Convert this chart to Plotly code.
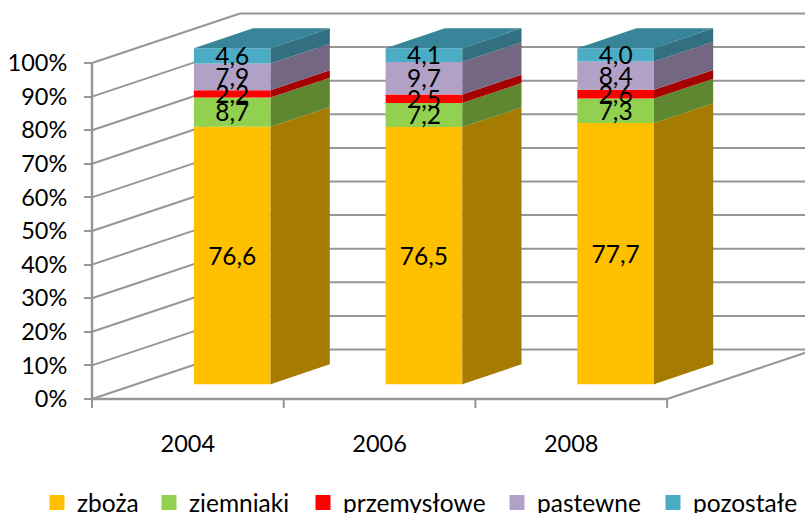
import plotly.graph_objects as go

years = ["2004", "2006", "2008"]
series_names = ["zboża", "ziemniaki", "przemysłowe", "pastewne", "pozostałe"]
zboza = [76.6, 76.5, 77.7]
ziemniaki = [8.7, 7.2, 7.3]
przemyslowe = [2.2, 2.5, 2.6]
pastewne = [7.9, 9.7, 8.4]
pozostale = [4.6, 4.1, 4.0]
front_colors = ["#FFC000", "#92D050", "#FF0000", "#B2A1C7", "#4BACC6"]
side_colors = ["#A67C00", "#5F8731", "#A60000", "#746782", "#326F81"]
top_color = "#38859A"
percent_ticks = [0, 10, 20, 30, 40, 50, 60, 70, 80, 90, 100]
legend_x_px = [37, 149, 303, 497, 653]
GRID = "#969696"
FONT = "Lato, Carlito, Calibri, sans-serif"
# canvas slightly larger than the 805x513 window, so the legend row can hug the bottom edge
W, H = 830, 533

# pixel calibration of the axes
PX_CAT, PX_PCT = 191.7, 3.36
AX_X, AX_Y = 92, 399
x_range = [0.5 - AX_X / PX_CAT, 0.5 + (W - AX_X) / PX_CAT]
y_range = [-(H - AX_Y) / PX_PCT, AX_Y / PX_PCT]

# oblique depth: one full floor depth in axis units
DX, DY = 148 / PX_CAT, 49.5 / PX_PCT
Z0, Z1 = 0.3, 0.7
BAR_W = 0.4
LABEL_DROP = 3 / PX_PCT
cats = [1, 2, 3]
all_series = [zboza, ziemniaki, przemyslowe, pastewne, pozostale]

fig = go.Figure()
shapes = []


def seg(x0, y0, x1, y1, width=2, color=GRID):
    shapes.append(dict(type="line", xref="x", yref="y", x0=x0, y0=y0, x1=x1, y1=y1,
                       layer="below", line=dict(color=color, width=width)))


# walls: gridlines derived from the percent ticks
for p in percent_ticks:
    seg(0.5, p, 0.5 + DX, p + DY)
    seg(0.5 + DX, p + DY, 3.5 + DX, p + DY)
# floor edges and axis lines
seg(0.5, 0, 3.5, 0, 2.5)
seg(3.5, 0, 3.5 + DX, DY)
seg(0.5, 0, 0.5, 100, 2.5)
for edge in [0.5, 1.5, 2.5, 3.5]:
    seg(edge, 0, edge, -9 / PX_PCT, 2)

# front faces
cum = [0.0, 0.0, 0.0]
for name, vals, col in zip(series_names, all_series, front_colors):
    fig.add_trace(go.Bar(
        name=name,
        x=[c + Z0 * DX for c in cats],
        y=vals,
        base=[b + Z0 * DY for b in cum],
        width=BAR_W,
        marker=dict(color=col, line=dict(width=0)),
        showlegend=False,
        hoverinfo="name+y",
    ))
    cum = [b + v for b, v in zip(cum, vals)]

# legend entries, one legend per series so each sits at its own position
layout_legends = {}
for k, (name, col, lx) in enumerate(zip(series_names, front_colors, legend_x_px)):
    key = "legend" if k == 0 else f"legend{k + 1}"
    fig.add_trace(go.Bar(
        name=name, x=[None], y=[None],
        marker=dict(color=col, line=dict(color=col, width=3)),
        showlegend=True, legend=key,
    ))
    layout_legends[key] = dict(
        x=lx / W, xanchor="left", y=0.015, yanchor="bottom", orientation="h",
        font=dict(family=FONT, size=24.5, color="#000000"),
        bgcolor="rgba(0,0,0,0)", itemwidth=30,
    )

# side faces
cum = [0.0, 0.0, 0.0]
for name, vals, col in zip(series_names, all_series, side_colors):
    for i, c in enumerate(cats):
        xr = c + BAR_W / 2
        x0, x1 = xr + Z0 * DX, xr + Z1 * DX
        lo, hi = cum[i], cum[i] + vals[i]
        fig.add_trace(go.Scatter(
            x=[x0, x1, x1, x0, x0],
            y=[lo + Z0 * DY, lo + Z1 * DY, hi + Z1 * DY, hi + Z0 * DY, lo + Z0 * DY],
            mode="lines", fill="toself", fillcolor=col,
            line=dict(width=0), showlegend=False, hoverinfo="skip",
        ))
    cum = [b + v for b, v in zip(cum, vals)]

# top faces
for i, c in enumerate(cats):
    xl, xr = c - BAR_W / 2, c + BAR_W / 2
    t = cum[i]
    fig.add_trace(go.Scatter(
        x=[xl + Z0 * DX, xl + Z1 * DX, xr + Z1 * DX, xr + Z0 * DX, xl + Z0 * DX],
        y=[t + Z0 * DY, t + Z1 * DY, t + Z1 * DY, t + Z0 * DY, t + Z0 * DY],
        mode="lines", fill="toself", fillcolor=top_color,
        line=dict(width=0), showlegend=False, hoverinfo="skip",
    ))

# value labels, above every face
cum = [0.0, 0.0, 0.0]
for name, vals in zip(series_names, all_series):
    fig.add_trace(go.Scatter(
        x=[c + Z0 * DX for c in cats],
        y=[b + v / 2 + Z0 * DY - LABEL_DROP for b, v in zip(cum, vals)],
        text=[f"{v:.1f}".replace(".", ",") for v in vals],
        mode="text", textposition="middle center",
        textfont=dict(family=FONT, size=24.5, color="#000000"),
        showlegend=False, hoverinfo="skip",
    ))
    cum = [b + v for b, v in zip(cum, vals)]

fig.update_layout(
    width=W, height=H,
    margin=dict(l=0, r=0, t=0, b=0),
    paper_bgcolor="white", plot_bgcolor="white",
    barmode="overlay",
    shapes=shapes,
    font=dict(family=FONT, size=23.5, color="#000000"),
    xaxis=dict(range=x_range, tickvals=cats, ticktext=years, showgrid=False, zeroline=False,
               showline=False, ticks="", anchor="free", position=(H - AX_Y) / H,
               ticklabelstandoff=28, tickfont=dict(family=FONT, size=23.5, color="#000000")),
    yaxis=dict(range=y_range, tickvals=percent_ticks, ticktext=[f"{p}%" for p in percent_ticks],
               showgrid=False, zeroline=False, showline=False, ticks="outside", ticklen=8,
               tickwidth=2, tickcolor=GRID, anchor="free", position=AX_X / W,
               ticklabelstandoff=12, tickfont=dict(family=FONT, size=23.5, color="#000000")),
    **layout_legends,
)
fig.write_html("out.html", config=dict(displayModeBar=False),
               post_script="document.body.style.margin='0';document.body.style.overflow='hidden';")
